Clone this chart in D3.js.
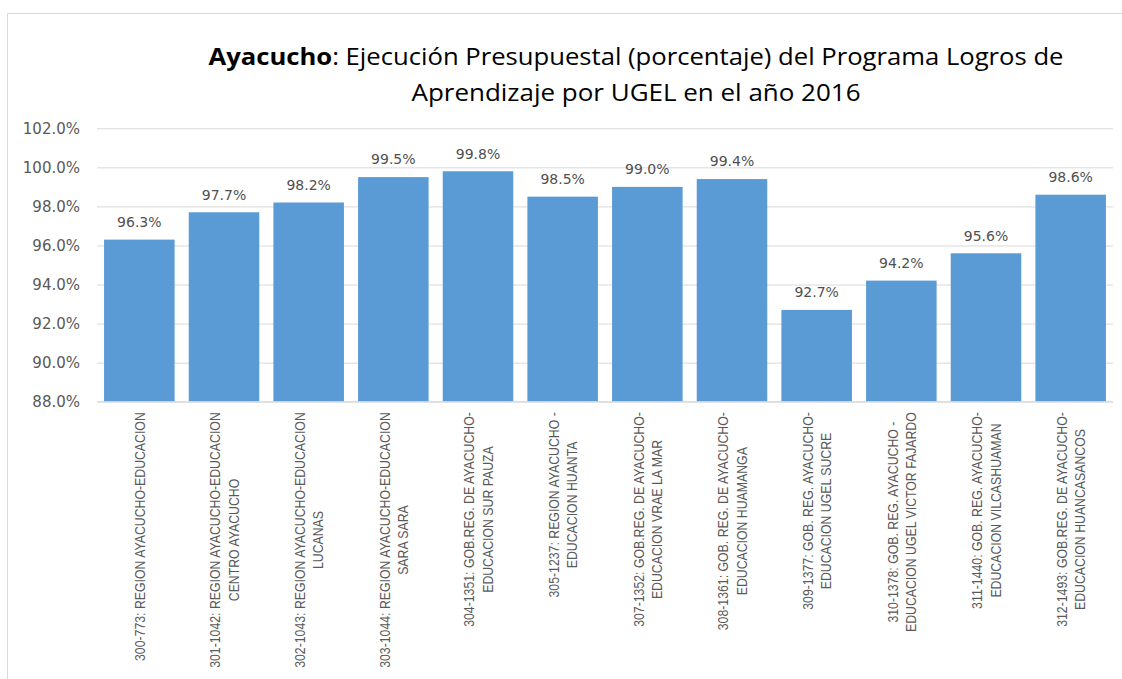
<!DOCTYPE html>
<html>
<head>
<meta charset="utf-8">
<script src="https://cdn.jsdelivr.net/npm/d3@7"></script>
<style>
	body { margin: 0; background: #fff; }
	svg { display: block; }
</style>
</head>
<body>
<div id="wrapper"></div>
<script>
// data
const categories = [
	["300-773: REGION AYACUCHO-EDUCACION"],
	["301-1042: REGION AYACUCHO-EDUCACION", "CENTRO AYACUCHO"],
	["302-1043: REGION AYACUCHO-EDUCACION", "LUCANAS"],
	["303-1044: REGION AYACUCHO-EDUCACION", "SARA SARA"],
	["304-1351: GOB.REG. DE AYACUCHO-", "EDUCACION SUR PAUZA"],
	["305-1237: REGION AYACUCHO -", "EDUCACION HUANTA"],
	["307-1352: GOB.REG. DE AYACUCHO-", "EDUCACION VRAE LA MAR"],
	["308-1361: GOB. REG. DE AYACUCHO-", "EDUCACION HUAMANGA"],
	["309-1377: GOB. REG. AYACUCHO-", "EDUCACION UGEL SUCRE"],
	["310-1378: GOB. REG. AYACUCHO -", "EDUCACION UGEL VICTOR FAJARDO"],
	["311-1440: GOB. REG. AYACUCHO-", "EDUCACION VILCASHUAMAN"],
	["312-1493: GOB.REG. DE AYACUCHO-", "EDUCACION HUANCASANCOS"],
];
const values = [96.3, 97.7, 98.2, 99.5, 99.8, 98.5, 99.0, 99.4, 92.7, 94.2, 95.6, 98.6];
const yTicks = [88, 90, 92, 94, 96, 98, 100, 102];

const data = categories.map((c, i) => ({ id: i, lines: c, value: values[i] }));

const dimensions = {
	width: 1122,
	height: 679,
	margins: { top: 128.3, right: 9, bottom: 277.3, left: 97 },
};
dimensions.boundedWidth = dimensions.width - dimensions.margins.left - dimensions.margins.right;
dimensions.boundedHeight = dimensions.height - dimensions.margins.top - dimensions.margins.bottom;

const svg = d3
	.select("#wrapper")
	.append("svg")
	.attr("width", dimensions.width)
	.attr("height", dimensions.height);

// chart frame
svg.append("path")
	.attr("d", "M1122,13.5 H7.5 V679")
	.attr("fill", "none")
	.attr("stroke", "#d9d9d9")
	.attr("stroke-width", 1);

// title
const title = svg.append("text")
	.attr("x", 636)
	.attr("y", 65)
	.attr("text-anchor", "middle")
	.attr("textLength", 855)
	.attr("lengthAdjust", "spacingAndGlyphs")
	.style("font-family", "'Open Sans', sans-serif")
	.style("font-size", "24px")
	.attr("fill", "#000");
title.append("tspan").attr("font-weight", "bold").text("Ayacucho");
title.append("tspan").text(": Ejecución Presupuestal (porcentaje) del Programa Logros de");

svg.append("text")
	.attr("x", 636)
	.attr("y", 101)
	.attr("text-anchor", "middle")
	.attr("textLength", 449)
	.attr("lengthAdjust", "spacingAndGlyphs")
	.style("font-family", "'Open Sans', sans-serif")
	.style("font-size", "24px")
	.attr("fill", "#000")
	.text("Aprendizaje por UGEL en el año 2016");

const bounds = svg.append("g")
	.attr("transform", `translate(${dimensions.margins.left}, ${dimensions.margins.top})`);

// scales
const xScale = d3.scaleBand()
	.domain(data.map((d) => d.id))
	.range([0, dimensions.boundedWidth])
	.paddingInner(0.167)
	.paddingOuter(0.0835);

const yScale = d3.scaleLinear()
	.domain([88, 102])
	.range([dimensions.boundedHeight, 0]);

// y axis + gridlines
const yAxis = bounds.append("g")
	.call(
		d3.axisLeft(yScale)
			.tickValues(yTicks)
			.tickSize(-dimensions.boundedWidth)
			.tickPadding(17)
			.tickFormat((d) => d3.format(".1f")(d) + "%")
	);
yAxis.select(".domain").remove();
yAxis.selectAll(".tick line").attr("stroke", "#d9d9d9");
yAxis.selectAll(".tick text")
	.attr("fill", "#595959")
	.style("font-family", "'DejaVu Sans', sans-serif")
	.style("font-size", "15px");

// bars
bounds.selectAll(".bar")
	.data(data)
	.join("rect")
	.attr("class", "bar")
	.attr("x", (d) => xScale(d.id))
	.attr("width", xScale.bandwidth())
	.attr("y", (d) => yScale(d.value))
	.attr("height", (d) => dimensions.boundedHeight - yScale(d.value))
	.attr("fill", "#5b9bd5");

// data labels
bounds.selectAll(".value-label")
	.data(data)
	.join("text")
	.attr("class", "value-label")
	.attr("x", (d) => xScale(d.id) + xScale.bandwidth() / 2)
	.attr("y", (d) => yScale(d.value) - 12.7)
	.attr("text-anchor", "middle")
	.attr("fill", "#505050")
	.style("font-family", "'DejaVu Sans', sans-serif")
	.style("font-size", "14px")
	.text((d) => d3.format(".1f")(d.value) + "%");

// x axis line
bounds.append("line")
	.attr("x1", 0)
	.attr("x2", dimensions.boundedWidth)
	.attr("y1", dimensions.boundedHeight)
	.attr("y2", dimensions.boundedHeight)
	.attr("stroke", "#d9d9d9");

// rotated category labels
const lineGap = 18.5;
const labels = bounds.selectAll(".cat-label")
	.data(data)
	.join("g")
	.attr("class", "cat-label")
	.attr("transform", (d) =>
		`translate(${xScale(d.id) + xScale.bandwidth() / 2}, ${dimensions.boundedHeight + 10.5}) rotate(-90)`
	);

labels.each(function (d) {
	const g = d3.select(this);
	const texts = g.selectAll("text")
		.data(d.lines)
		.join("text")
		.attr("transform", "scale(0.82,1)")
		.attr("text-anchor", "middle")
		.attr("y", (l, i) => (i - (d.lines.length - 1) / 2) * lineGap + 5.5)
		.attr("fill", "#595959")
		.style("font-family", "'Liberation Sans', Arial, sans-serif")
		.style("font-size", "15px")
		.text((l) => l);
	const maxLen = d3.max(texts.nodes(), (n) => n.getComputedTextLength());
	texts.attr("x", -maxLen / 2);
});
</script>
</body>
</html>
